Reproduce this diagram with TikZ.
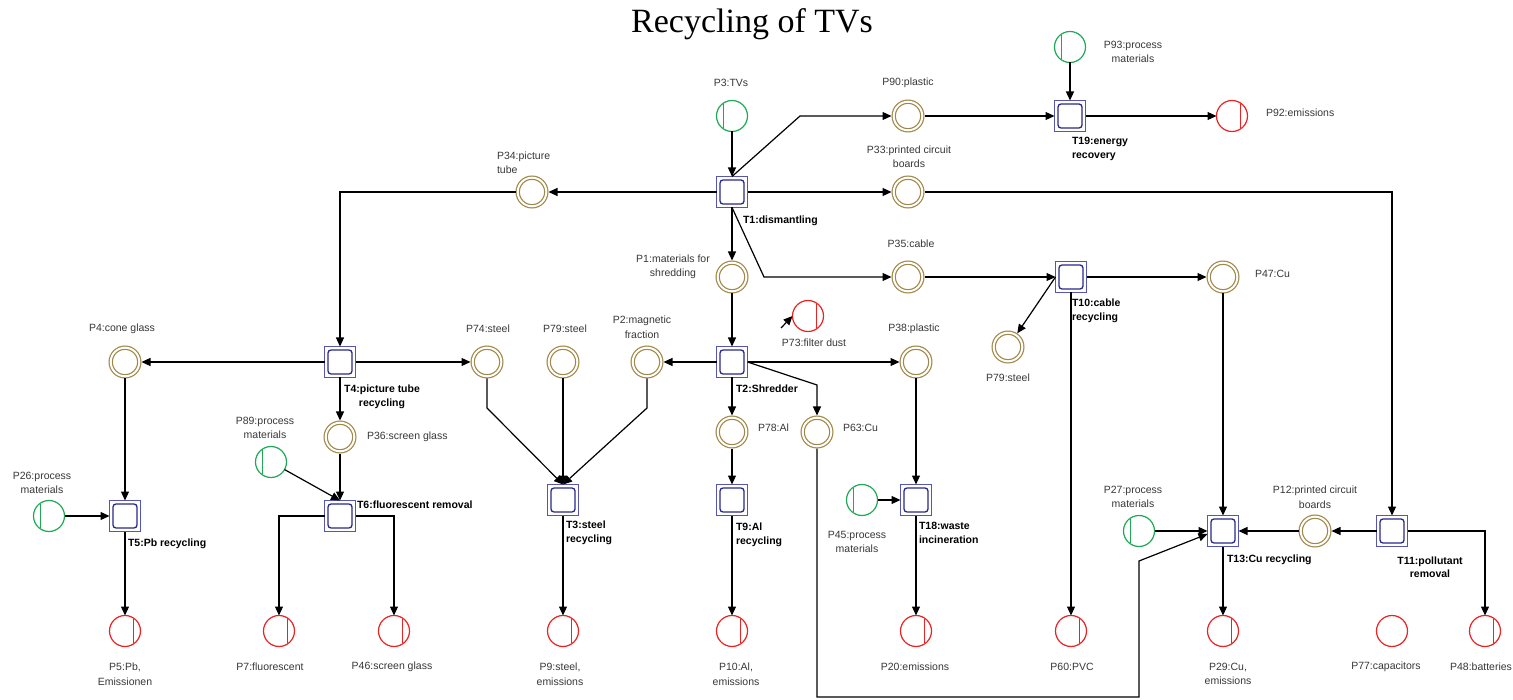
\documentclass[tikz,border=0pt]{standalone}
\usepackage{fontspec}
\setmainfont{Liberation Sans}
\newfontfamily\titlefont{Liberation Serif}
\usetikzlibrary{arrows.meta}

\definecolor{placebrown}{RGB}{160,135,70}
\definecolor{ingreen}{RGB}{30,170,85}
\definecolor{outred}{RGB}{235,35,35}
\definecolor{transblue}{RGB}{85,85,180}
\definecolor{transnavy}{RGB}{40,40,140}
\definecolor{labelgray}{RGB}{55,55,55}

\tikzset{
  every node/.style={inner sep=0pt, outer sep=0pt},
  % intermediate place: double ring
  place/.style={circle, minimum size=28.6pt, draw=placebrown, line width=1.2pt,
    double=white, double distance=2pt, outer sep=2.2pt},
  % source place: ring with bar on the left
  inplace/.style={circle, minimum size=31pt, draw=ingreen, line width=1.2pt,
    path picture={\draw[ingreen, line width=1.2pt]
      ([xshift=-8.5pt,yshift=-12pt]path picture bounding box.center) -- ++(0pt,24pt);}},
  % sink place: ring with bar on the right
  outplace/.style={circle, minimum size=31pt, draw=outred, line width=1.2pt,
    path picture={\draw[outred, line width=1.2pt]
      ([xshift=8.5pt,yshift=-12pt]path picture bounding box.center) -- ++(0pt,24pt);}},
  emptyout/.style={circle, minimum size=31pt, draw=outred, line width=1.2pt},
  % process: square with rounded inner square
  trans/.style={rectangle, minimum size=31pt, draw=transblue, line width=1.5pt,
    path picture={\draw[transnavy, line width=1.3pt, rounded corners=3pt]
      ([xshift=-12pt,yshift=-12pt]path picture bounding box.center) rectangle
      ([xshift=12pt,yshift=12pt]path picture bounding box.center);}},
  plabel/.style={text=labelgray, font=\fontsize{10.5}{14.5}\selectfont, align=center},
  plabell/.style={plabel, align=left, anchor=west},
  tlabel/.style={text=black, font=\fontsize{10.5}{13.5}\selectfont\bfseries, align=left, anchor=west},
  tlabelc/.style={text=black, font=\fontsize{10.5}{13.5}\selectfont\bfseries, align=center},
  arc/.style={draw=black, line width=1.2pt, -{Triangle[length=9pt,width=8pt]}},
  line/.style={draw=black, line width=1.2pt},
}

\begin{document}
\begin{tikzpicture}[x=1pt, y=-1pt]
\useasboundingbox (0,0) rectangle (1513,700);

\node[font=\titlefont\fontsize{34}{40}\selectfont] (title) at (752,24) {Recycling of TVs};

% ---- transitions
\node[trans] (T1)  at (732,192) {};
\node[trans] (T19) at (1070,116) {};
\node[trans] (T10) at (1071,277) {};
\node[trans] (T2)  at (732,362) {};
\node[trans] (T4)  at (340,362) {};
\node[trans] (T5)  at (125,516) {};
\node[trans] (T6)  at (340,516) {};
\node[trans] (T3)  at (563,500) {};
\node[trans] (T9)  at (732,500) {};
\node[trans] (T18) at (916,500) {};
\node[trans] (T13) at (1223,531) {};
\node[trans] (T11) at (1392,531) {};

% ---- intermediate places
\node[place] (P90) at (908,116) {};
\node[place] (P33) at (908,192) {};
\node[place] (P35) at (908,277) {};
\node[place] (P34) at (532,192) {};
\node[place] (P1)  at (732,277) {};
\node[place] (P47) at (1223,277) {};
\node[place] (P79r) at (1008,347) {};
\node[place] (P4)  at (125,362) {};
\node[place] (P74) at (487,362) {};
\node[place] (P79) at (563,362) {};
\node[place] (P2)  at (647,362) {};
\node[place] (P38) at (916,362) {};
\node[place] (P36) at (340,437) {};
\node[place] (P78) at (732,432) {};
\node[place] (P63) at (817,432) {};
\node[place] (P12) at (1315,531) {};

% ---- source places
\node[inplace] (P3)  at (732,116) {};
\node[inplace] (P93) at (1070,47) {};
\node[inplace] (P89) at (271,462) {};
\node[inplace] (P26) at (49,516) {};
\node[inplace] (P45) at (862,500) {};
\node[inplace] (P27) at (1139,531) {};

% ---- sink places
\node[outplace] (P92) at (1232,116) {};
\node[outplace] (P73) at (808,316) {};
\node[outplace] (P5)  at (125,631) {};
\node[outplace] (P7)  at (279,631) {};
\node[outplace] (P46) at (394,631) {};
\node[outplace] (P9)  at (563,631) {};
\node[outplace] (P10) at (732,631) {};
\node[outplace] (P20) at (916,631) {};
\node[outplace] (P60) at (1071,631) {};
\node[outplace] (P29) at (1223,631) {};
\node[emptyout] (P77) at (1392,631) {};
\node[outplace] (P48) at (1485,631) {};

% ---- place labels
\node[plabel] (lP3)  at (731,83) {P3:TVs};
\node[plabel] (lP90) at (908,83) {P90:plastic};
\node[plabel] (lP93) at (1133,52) {P93:process\\materials};
\node[plabell] (lP92) at (1266,113) {P92:emissions};
\node[plabell] (lP34) at (497,163) {P34:picture\\tube};
\node[plabel] (lP33) at (909,157) {P33:printed circuit\\boards};
\node[plabel] (lP35) at (911,244) {P35:cable};
\node[plabel] (lP1)  at (673,267) {P1:materials for\\shredding};
\node[plabell] (lP47) at (1255,274) {P47:Cu};
\node[plabel] (lP79r) at (1008,378) {P79:steel};
\node[plabel] (lP73) at (814,343) {P73:filter dust};
\node[plabel] (lP4)  at (122,329) {P4:cone glass};
\node[plabel] (lP74) at (488,329) {P74:steel};
\node[plabel] (lP79) at (565,329) {P79:steel};
\node[plabel] (lP2)  at (642,327) {P2:magnetic\\fraction};
\node[plabel] (lP38) at (914,329) {P38:plastic};
\node[plabel] (lP89) at (265,428) {P89:process\\materials};
\node[plabell] (lP36) at (367,437) {P36:screen glass};
\node[plabell] (lP78) at (758,428) {P78:Al};
\node[plabell] (lP63) at (843,428) {P63:Cu};
\node[plabel] (lP26) at (42,483) {P26:process\\materials};
\node[plabel] (lP45) at (857,542) {P45:process\\materials};
\node[plabel] (lP27) at (1133,497) {P27:process\\materials};
\node[plabel] (lP12) at (1315,497) {P12:printed circuit\\boards};
\node[plabel] (lP5)  at (125,674) {P5:Pb,\\Emissionen};
\node[plabel] (lP7)  at (270,667) {P7:fluorescent};
\node[plabel] (lP46) at (392,667) {P46:screen glass};
\node[plabel] (lP9)  at (560,674) {P9:steel,\\emissions};
\node[plabel] (lP10) at (736,674) {P10:Al,\\emissions};
\node[plabel] (lP20) at (915,667) {P20:emissions};
\node[plabel] (lP60) at (1072,667) {P60:PVC};
\node[plabel] (lP29) at (1228,674) {P29:Cu,\\emissions};
\node[plabel] (lP77) at (1386,667) {P77:capacitors};
\node[plabel] (lP48) at (1481,667) {P48:batteries};

% ---- transition labels
\node[tlabel] (lT19) at (1072,149) {T19:energy\\recovery};
\node[tlabel] (lT1)  at (743,221) {T1:dismantling};
\node[tlabel] (lT10) at (1072,311) {T10:cable\\recycling};
\node[tlabelc] (lT4) at (382,397) {T4:picture tube\\recycling};
\node[tlabel] (lT2)  at (736,389) {T2:Shredder};
\node[tlabel] (lT5)  at (128,544) {T5:Pb recycling};
\node[tlabel] (lT6)  at (357,505) {T6:fluorescent removal};
\node[tlabel] (lT3)  at (566,533) {T3:steel\\recycling};
\node[tlabel] (lT9)  at (736,535) {T9:Al\\recycling};
\node[tlabel] (lT18) at (919,533) {T18:waste\\incineration};
\node[tlabel] (lT13) at (1227,560) {T13:Cu recycling};
\node[tlabelc] (lT11) at (1430,567) {T11:pollutant\\removal};

% ---- arcs: dismantling
\draw[arc] (P3) -- (T1);
\draw[arc] (T1.north) -- (800,116) -- (P90);
\draw[arc] (T1) -- (P34);
\draw[arc] (T1) -- (P33);
\draw[arc] (T1) -- (P1);
\draw[arc] (T1.south) -- (764,277) -- (P35);

% energy recovery
\draw[arc] (P90) -- (T19);
\draw[arc] (P93) -- (T19);
\draw[arc] (T19) -- (P92);

% circuit boards
\draw[arc] (P33) -| (T11);
\draw[arc] (T11) -- (P12);
\draw[arc] (P12) -- (T13);
\draw[arc] (T11) -| (P48);

% cable recycling
\draw[arc] (P35) -- (T10);
\draw[arc] (T10) -- (P47);
\draw[arc] (T10.west) -- (P79r);
\draw[arc] (T10) -- (P60);
\draw[arc] (P47) -- (T13);

% picture tube
\draw[arc] (P34) -| (T4);
\draw[arc] (T4) -- (P4);
\draw[arc] (T4) -- (P74);
\draw[arc] (T4) -- (P36);
\draw[arc] (P4) -- (T5);
\draw[arc] (P26) -- (T5);
\draw[arc] (T5) -- (P5);
\draw[arc] (P36) -- (T6);
\draw[arc] (P89) -- (T6.north);
\draw[arc] (T6) -| (P7);
\draw[arc] (T6) -| (P46);

% steel recycling
\draw[arc] (P74) -- (487,408) -- (T3.north);
\draw[arc] (P79) -- (T3);
\draw[arc] (P2) -- (647,408) -- (T3.north);
\draw[arc] (T3) -- (P9);

% shredder
\draw[arc] (P1) -- (T2);
\draw[arc] (T2) -- (P2);
\draw[arc] (T2) -- (P38);
\draw[arc] (T2) -- (P78);
\draw[arc] (T2.east) -- (817,385) -- (P63);
\coordinate (dusttail) at (781,328);
\draw[arc] (dusttail) -- (P73.west);
\draw[arc] (P78) -- (T9);
\draw[arc] (T9) -- (P10);

% waste incineration
\draw[arc] (P38) -- (T18);
\draw[arc] (P45) -- (T18);
\draw[arc] (T18) -- (P20);

% copper recycling
\draw[arc] (P63) -- (817,697) -- (1139,697) -- (1139,561) -- ([yshift=-3pt]T13.west);
\draw[arc] (P27) -- (T13);
\draw[arc] (T13) -- (P29);

\end{tikzpicture}
\end{document}
